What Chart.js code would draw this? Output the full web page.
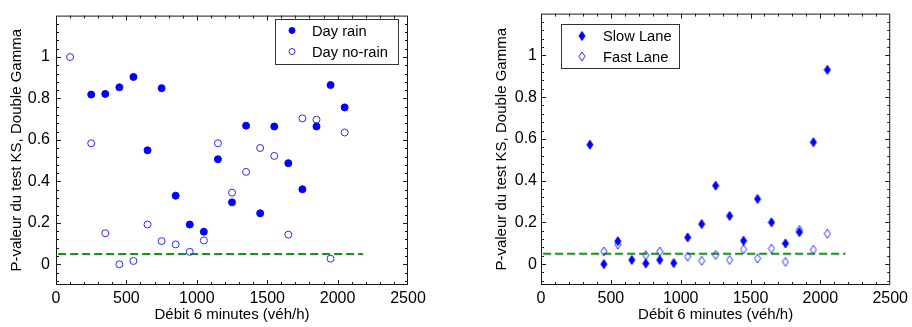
<!DOCTYPE html>
<html>
<head>
<meta charset="utf-8">
<script src="https://cdn.jsdelivr.net/npm/chart.js@4.4.1/dist/chart.umd.min.js"></script>
<style>
  html, body { margin: 0; padding: 0; background: #ffffff; }
  #wrap { position: relative; width: 912px; height: 327px; overflow: hidden; }
  canvas { position: absolute; top: 0; }
</style>
</head>
<body>
<div id="wrap">
  <canvas id="left" width="456" height="327" style="left:0px"></canvas>
  <canvas id="right" width="456" height="327" style="left:456px"></canvas>
</div>
<script>
// ---------------- DATA ----------------
const flow = [100, 250, 350, 450, 550, 650, 750, 850, 950, 1050, 1150, 1250, 1350, 1450, 1550, 1650, 1750, 1850, 1950, 2050];
const dayRain   = [null, 0.819, 0.822, 0.854, 0.904, 0.550, 0.850, 0.331, 0.192, 0.157, 0.507, 0.299, 0.669, 0.246, 0.665, 0.488, 0.362, 0.665, 0.865, 0.757];
const dayNoRain = [1.000, 0.584, 0.150, 0.000, 0.016, 0.192, 0.112, 0.096, 0.060, 0.115, 0.584, 0.346, 0.446, 0.561, 0.523, 0.143, 0.704, 0.698, 0.027, 0.636];
const slowLane  = [null, null, 0.572, 0.000, 0.110, 0.020, 0.003, 0.020, 0.005, 0.128, 0.192, 0.376, 0.231, 0.112, 0.312, 0.200, 0.099, 0.153, 0.584, 0.931];
const fastLane  = [null, null, null, 0.060, 0.094, null, 0.043, 0.060, null, 0.036, 0.016, 0.044, 0.020, 0.071, 0.027, 0.074, 0.011, 0.164, 0.069, 0.146];
const threshold = 0.05;
const thresholdRange = [15, 2180];
const xTickLabels = [0, 500, 1000, 1500, 2000, 2500];
const yTickLabels = [0, 0.2, 0.4, 0.6, 0.8, 1];
const seriesLabels = ['Day rain', 'Day no-rain', 'Slow Lane', 'Fast Lane'];
const xTitle = 'Débit 6 minutes (véh/h)';
const yTitle = 'P-valeur du test KS, Double Gamma';

// ---------------- helpers ----------------
const FONT = "'Liberation Sans', Arial, sans-serif";
const BLUE = '#0000ff';
function pairs(xs, ys) {
  const out = [];
  xs.forEach((x, i) => { if (ys[i] !== null && ys[i] !== undefined) out.push({ x: x, y: ys[i] }); });
  return out;
}
function diamond(w, h, filled) {
  const c = document.createElement('canvas');
  c.width = w + 2; c.height = h + 2;
  const g = c.getContext('2d');
  const cx = (w + 2) / 2, cy = (h + 2) / 2;
  g.beginPath();
  g.moveTo(cx, 1); g.lineTo(w + 1, cy); g.lineTo(cx, h + 1); g.lineTo(1, cy); g.closePath();
  if (filled) { g.fillStyle = BLUE; g.fill(); g.strokeStyle = BLUE; g.lineWidth = 1; g.stroke(); }
  else { g.strokeStyle = '#2a2aff'; g.lineWidth = 1; g.stroke(); }
  return c;
}
const dFilled = diamond(6, 9, true);
const dOpen = diamond(6, 9, false);

const framePlugin = {
  id: 'frame',
  beforeDatasetsDraw(chart) {
    const { ctx, chartArea: a, scales: { x, y } } = chart;
    ctx.save();
    ctx.strokeStyle = '#1a1a1a';
    ctx.lineWidth = 1;
    ctx.strokeRect(a.left + 0.5, a.top + 0.5, a.right - a.left - 1, a.bottom - a.top - 1);
    ctx.beginPath();
    for (let k = 1; k < 25; k++) {
      const px = Math.round(x.getPixelForValue(k * 100)) + 0.5;
      const len = (k % 5 === 0) ? 5 : 3;
      ctx.moveTo(px, a.bottom); ctx.lineTo(px, a.bottom - len);
      ctx.moveTo(px, a.top); ctx.lineTo(px, a.top + len);
    }
    for (let k = -2; k <= 29; k++) {
      const py = Math.round(y.getPixelForValue(k * 0.04)) + 0.5;
      const len = (k % 5 === 0) ? 5 : 3;
      ctx.moveTo(a.left, py); ctx.lineTo(a.left + len, py);
      ctx.moveTo(a.right, py); ctx.lineTo(a.right - len, py);
    }
    ctx.stroke();
    ctx.restore();
  },
  afterDraw(chart) {
    const lg = chart.options.plugins.boxLegend;
    if (!lg) return;
    const ctx = chart.ctx;
    ctx.save();
    ctx.fillStyle = '#ffffff';
    ctx.fillRect(lg.box[0], lg.box[1], lg.box[2] - lg.box[0], lg.box[3] - lg.box[1]);
    ctx.strokeStyle = '#333333';
    ctx.lineWidth = 1;
    ctx.strokeRect(lg.box[0] + 0.5, lg.box[1] + 0.5, lg.box[2] - lg.box[0], lg.box[3] - lg.box[1]);
    chart.data.datasets.forEach((ds, i) => {
      if (i >= lg.rows.length) return;
      const yy = lg.rows[i];
      ctx.fillStyle = ds.backgroundColor;
      ctx.strokeStyle = ds.borderColor;
      ctx.lineWidth = ds.borderWidth || 1;
      Chart.helpers.drawPoint(ctx, { pointStyle: ds.pointStyle, radius: lg.radius, rotation: 0, borderWidth: ds.borderWidth || 1 }, lg.markerX, yy);
      ctx.fillStyle = '#000000';
      ctx.font = '14.7px ' + FONT;
      ctx.textBaseline = 'middle';
      ctx.textAlign = 'left';
      ctx.fillText(ds.label, lg.textX, yy + 1);
    });
    ctx.restore();
  }
};

function makeChart(id, datasets, padLeft, padRight, legend, yPad) {
  datasets.push({
    type: 'line',
    label: 'seuil',
    data: thresholdRange.map(v => ({ x: v, y: threshold })),
    borderColor: '#109a10',
    borderWidth: 2,
    borderDash: [8, 4],
    pointRadius: 0,
    showLine: true,
    fill: false
  });
  return new Chart(document.getElementById(id), {
    type: 'scatter',
    data: { datasets: datasets },
    options: {
      responsive: false,
      animation: false,
      devicePixelRatio: 1,
      layout: { padding: { left: padLeft, right: padRight, top: 9, bottom: 0 } },
      plugins: { legend: { display: false }, tooltip: { enabled: false }, boxLegend: legend },
      scales: {
        x: {
          type: 'linear', min: 0, max: 2500,
          grid: { display: false, drawTicks: false },
          border: { display: false },
          afterBuildTicks: s => { s.ticks = xTickLabels.map(v => ({ value: v })); },
          afterFit: s => { s.height = 42; },
          ticks: { padding: 4, color: '#000', font: { family: FONT, size: 16 }, maxRotation: 0, callback: v => String(v) },
          title: { display: true, text: xTitle, color: '#000', font: { family: FONT, size: 15 }, padding: { top: 0, bottom: 3 } }
        },
        y: {
          type: 'linear', min: -0.1, max: 1.2,
          grid: { display: false, drawTicks: false },
          border: { display: false },
          afterBuildTicks: s => { s.ticks = yTickLabels.map(v => ({ value: v })); },
          afterFit: s => { s.width = 56; },
          ticks: { padding: yPad, color: '#000', font: { family: FONT, size: 16 }, callback: v => String(Math.round(v * 10) / 10) },
          title: { display: true, text: yTitle, color: '#000', font: { family: FONT, size: 15 }, padding: { top: 8, bottom: 0 } }
        }
      }
    },
    plugins: [framePlugin]
  });
}

makeChart('left', [
  { label: seriesLabels[0], data: pairs(flow, dayRain), pointStyle: 'circle', pointRadius: 3.5, borderWidth: 1, backgroundColor: BLUE, borderColor: BLUE },
  { label: seriesLabels[1], data: pairs(flow, dayNoRain), pointStyle: 'circle', pointRadius: 3.5, borderWidth: 1, backgroundColor: 'rgba(0,0,0,0)', borderColor: '#2a2aff' }
], 0, 48, { box: [275, 19, 398, 64], markerX: 292, textX: 312, rows: [30.5, 51.5], radius: 3 }, 6);

makeChart('right', [
  { label: seriesLabels[2], data: pairs(flow, slowLane), pointStyle: dFilled, pointRadius: 4, borderWidth: 1, backgroundColor: BLUE, borderColor: BLUE },
  { label: seriesLabels[3], data: pairs(flow, fastLane), pointStyle: dOpen, pointRadius: 4, borderWidth: 1, backgroundColor: 'rgba(0,0,0,0)', borderColor: '#2a2aff' }
], 29, 19, { box: [105, 24, 223, 68], markerX: 126, textX: 147, rows: [36, 56.5], radius: 3 }, 4);
</script>
</body>
</html>
